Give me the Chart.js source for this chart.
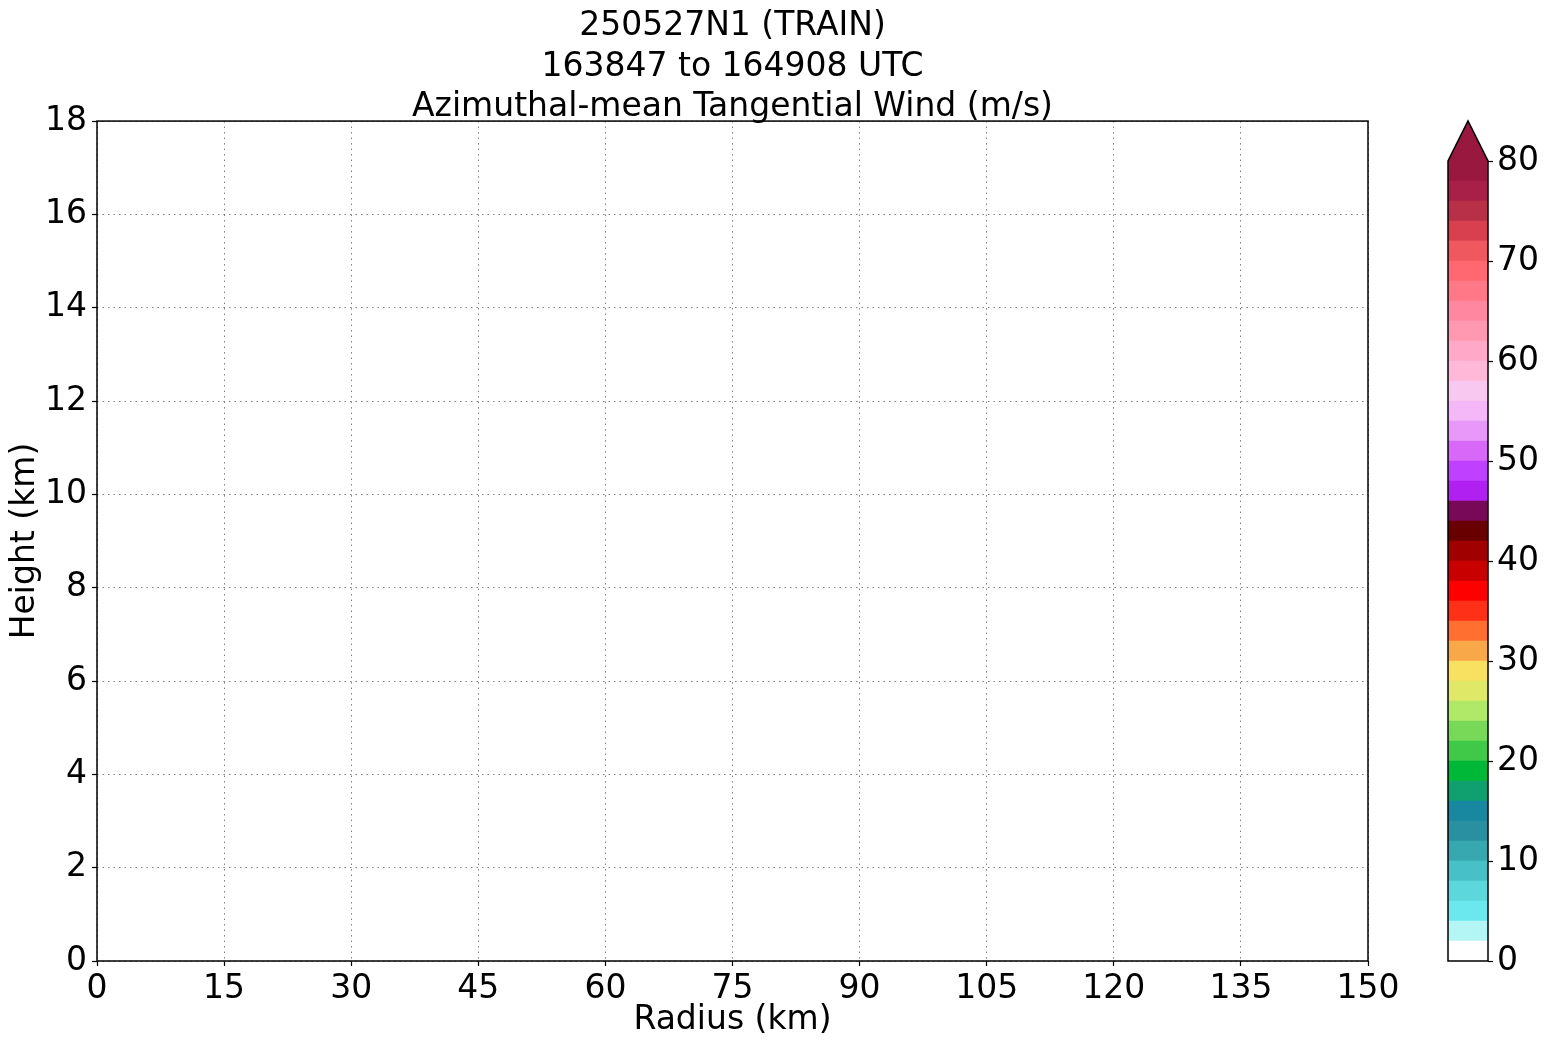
<!DOCTYPE html>
<html>
<head>
<meta charset="utf-8">
<script src="https://cdn.jsdelivr.net/npm/chart.js"></script>
<style>
html, body { margin: 0; padding: 0; background: #fff; }
#wrap { position: relative; width: 1548px; height: 1045px; }
#main { position: absolute; left: 0; top: 0; }
#cbar { position: absolute; left: 1400px; top: 100px; }
</style>
</head>
<body>
<div id="wrap">
  <canvas id="main" width="1548" height="1045"></canvas>
  <canvas id="cbar" width="148" height="945"></canvas>
</div>
<script>
// title of the figure
var titleLines = ['250527N1 (TRAIN)', '163847 to 164908 UTC', 'Azimuthal-mean Tangential Wind (m/s)'];

// axis ticks
var radiusTicks = [0, 15, 30, 45, 60, 75, 90, 105, 120, 135, 150];
var heightTicks = [0, 2, 4, 6, 8, 10, 12, 14, 16, 18];

// colorbar levels (m/s) and the colormap between them
var windLevels = [0, 2, 4, 6, 8, 10, 12, 14, 16, 18, 20, 22, 24, 26, 28, 30, 32, 34, 36, 38, 40,
                  42, 44, 46, 48, 50, 52, 54, 56, 58, 60, 62, 64, 66, 68, 70, 72, 74, 76, 78, 80];
var windTicks = [0, 10, 20, 30, 40, 50, 60, 70, 80];
var windColors = ['#ffffff', '#b4f5f5', '#6ae8ee', '#5cd8dc', '#48c0c8', '#38a8b0', '#2890a0', '#1888a0',
                  '#10a070', '#00b838', '#40c848', '#78d858', '#b0e868', '#e0e868', '#f8e060', '#f8a848',
                  '#ff7030', '#ff3018', '#ff0000', '#c80000', '#a00000', '#680000', '#780858', '#b020f0',
                  '#c040ff', '#d868f8', '#e898f8', '#f4b8f8', '#f8c8f0', '#ffb8d8', '#ffa8c8', '#ff98b0',
                  '#ff88a0', '#ff7888', '#ff6870', '#f05860', '#d84050', '#b83048', '#a82048', '#981840'];
var overColor = '#981840';

// the swath has no valid points in this time window
var radii = [];
var heights = [];
var winds = [];

Chart.defaults.font.family = 'DejaVu Sans';
Chart.defaults.color = '#000';

var points = radii.map(function (r, i) { return { x: r, y: heights[i], v: winds[i] }; });

var framePlugin = {
    id: 'frame',
    afterDraw: function (chart) {
        var a = chart.chartArea, c = chart.ctx;
        c.save();
        c.strokeStyle = '#000';
        c.lineWidth = 1.5;
        c.strokeRect(a.left, a.top, a.right - a.left, a.bottom - a.top);
        c.restore();
    }
};

function setTicks(list) {
    return function (scale) {
        scale.ticks = list.map(function (v) { return { value: v }; });
    };
}

var gridStyle = { color: '#808080', lineWidth: 1, tickColor: '#000', tickBorderDash: [], tickLength: 5, tickWidth: 1.2 };

new Chart(document.getElementById('main').getContext('2d'), {
    type: 'scatter',
    data: {
        datasets: [{ data: points, pointRadius: 0 }]
    },
    options: {
        responsive: false,
        animation: false,
        layout: { padding: { left: 0, right: 180, top: 0, bottom: 0 } },
        plugins: {
            legend: { display: false },
            tooltip: { enabled: false },
            title: {
                display: true,
                text: titleLines,
                fullSize: false,
                color: '#000',
                font: { size: 33, weight: 'normal', lineHeight: 1.233 },
                padding: { top: 6, bottom: -7 }
            }
        },
        scales: {
            x: {
                type: 'linear',
                min: 0,
                max: 150,
                afterBuildTicks: setTicks(radiusTicks),
                afterFit: function (s) { s.height = 84; },
                ticks: { font: { size: 33 }, color: '#000', padding: 4, maxRotation: 0 },
                grid: gridStyle,
                border: { display: false, dash: [1.5, 4] },
                title: { display: true, text: 'Radius (km)', color: '#000', font: { size: 33 }, padding: { top: 0, bottom: 5 } }
            },
            y: {
                type: 'linear',
                min: 0,
                max: 18,
                afterBuildTicks: setTicks(heightTicks),
                afterFit: function (s) { s.width = 97; },
                ticks: { font: { size: 33 }, color: '#000', padding: 5 },
                grid: gridStyle,
                border: { display: false, dash: [1.5, 4] },
                title: { display: true, text: 'Height (km)', color: '#000', font: { size: 33 }, padding: { top: 6, bottom: 0 } }
            }
        }
    },
    plugins: [framePlugin]
});

// colorbar: one stacked bar, one segment per contour level
var cbarSets = windColors.map(function (col, i) {
    return {
        data: [windLevels[i + 1] - windLevels[i]],
        backgroundColor: col,
        borderWidth: 0,
        barPercentage: 1,
        categoryPercentage: 1
    };
});

var cbarFrame = {
    id: 'cbarFrame',
    afterDraw: function (chart) {
        var a = chart.chartArea, c = chart.ctx;
        var tip = (a.bottom - a.top) * 0.05;
        var mid = (a.left + a.right) / 2;
        c.save();
        c.beginPath();
        c.moveTo(a.left, a.top);
        c.lineTo(mid, a.top - tip);
        c.lineTo(a.right, a.top);
        c.closePath();
        c.fillStyle = overColor;
        c.fill();
        c.beginPath();
        c.moveTo(a.left, a.bottom);
        c.lineTo(a.left, a.top);
        c.lineTo(mid, a.top - tip);
        c.lineTo(a.right, a.top);
        c.lineTo(a.right, a.bottom);
        c.closePath();
        c.strokeStyle = '#000';
        c.lineWidth = 1.5;
        c.stroke();
        c.restore();
    }
};

new Chart(document.getElementById('cbar').getContext('2d'), {
    type: 'bar',
    data: { labels: [''], datasets: cbarSets },
    options: {
        responsive: false,
        animation: false,
        layout: { padding: { left: 48, right: 0, top: 61, bottom: 84 } },
        plugins: { legend: { display: false }, tooltip: { enabled: false } },
        scales: {
            x: { display: false, stacked: true },
            y: {
                position: 'right',
                stacked: true,
                min: 0,
                max: 80,
                afterBuildTicks: setTicks(windTicks),
                afterFit: function (s) { s.width = 60; },
                ticks: { font: { size: 33 }, color: '#000', padding: 4 },
                grid: { drawOnChartArea: false, drawTicks: true, tickLength: 5, tickColor: '#000', tickWidth: 1.2 },
                border: { display: false }
            }
        }
    },
    plugins: [cbarFrame]
});
</script>
</body>
</html>
